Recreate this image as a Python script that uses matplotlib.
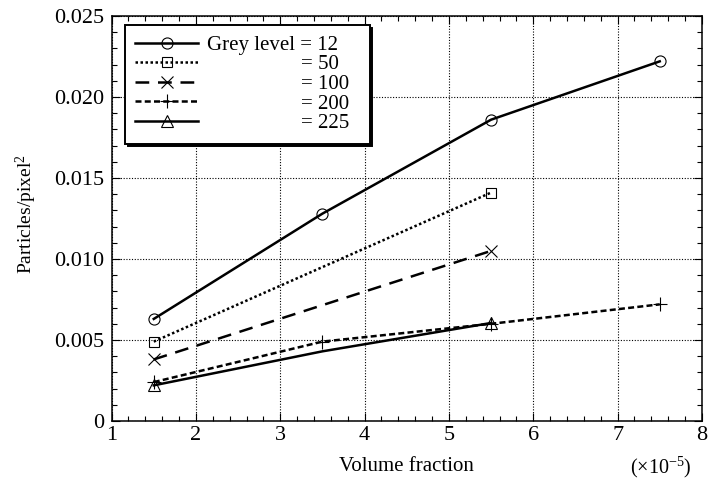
import matplotlib
matplotlib.use('Agg')
import matplotlib.pyplot as plt
from matplotlib.ticker import MultipleLocator, FixedFormatter, FixedLocator

plt.rcParams['font.family'] = ['Liberation Serif', 'DejaVu Serif']
plt.rcParams['mathtext.fontset'] = 'custom'
plt.rcParams['mathtext.rm'] = 'Liberation Serif'
plt.rcParams['mathtext.it'] = 'Liberation Serif:italic'

# data (volume fraction in units of 1e-5, particles per pixel^2)
x12 = [1.5, 3.5, 5.5, 7.5]
y12 = [0.0063, 0.0128, 0.0186, 0.0222]
x50 = [1.5, 5.5]
y50 = [0.0049, 0.0141]
x100 = [1.5, 5.5]
y100 = [0.0038, 0.0105]
x200 = [1.5, 3.5, 5.5, 7.5]
y200 = [0.0024, 0.0049, 0.0060, 0.0072]
x225 = [1.5, 3.5, 5.5]
y225 = [0.0022, 0.0043, 0.00605]
labels = ['Grey level = 12', '= 50', '= 100', '= 200', '= 225']
yticks = [0, 0.005, 0.010, 0.015, 0.020, 0.025]
ytick_labels = ['0', '0.005', '0.010', '0.015', '0.020', '0.025']

fs_tick = 16
fs = 15
fig = plt.figure(figsize=(7.09, 4.79), dpi=100)
ax = fig.add_axes([0.1574, 0.1211, 0.8326, 0.8455])

lw = 1.8
mk = dict(mfc='none', mec='black', mew=0.8, color='black', lw=lw)
l1, = ax.plot(x12, y12, marker='o', ms=8, ls='-', **mk)
l2, = ax.plot(x50, y50, marker='s', ms=7.5, ls=(0, (1.0, 1.0)), **mk)
l3, = ax.plot(x100, y100, marker='x', ms=8.5, ls=(0, (5.5, 3.5)), **mk)
l4, = ax.plot(x200, y200, marker='+', ms=10, ls=(0, (2.4, 1.3)), **mk)
l5, = ax.plot(x225, y225, marker='^', ms=8.5, ls='-', markevery=2, **mk)

ax.set_xlim(1, 8)
ax.set_ylim(0, 0.025)
ax.xaxis.set_major_locator(MultipleLocator(1))
ax.xaxis.set_minor_locator(MultipleLocator(0.2))
ax.yaxis.set_major_locator(FixedLocator(yticks))
ax.yaxis.set_major_formatter(FixedFormatter(ytick_labels))
ax.yaxis.set_minor_locator(MultipleLocator(0.001))
ax.tick_params(which='both', direction='in', top=True, right=True,
               labelsize=fs_tick, width=0.8, color='black')
ax.tick_params(which='major', length=6)
ax.tick_params(which='minor', length=3.5)
ax.tick_params(axis='x', pad=3.5)
ax.tick_params(axis='y', pad=5)
for s in ax.spines.values():
    s.set_linewidth(1.1)

ax.grid(True, which='major', color='black', ls=(0, (1, 1.5)), lw=0.8)
ax.set_axisbelow(True)

ax.set_xlabel('Volume fraction', fontsize=fs, labelpad=9)
ax.set_ylabel('Particles/pixel$^{2}$', fontsize=14)
ax.yaxis.set_label_coords(-0.123, 0.51)
fig.text(0.976, 0.012, r'($\times$10$^{-5}$)', fontsize=14.5, ha='right', va='baseline')

# trailing spaces widen the box on the right like the original
leg_labels = [labels[0] + '    '] + labels[1:]
leg = ax.legend([l1, l2, l3, l4, l5], leg_labels, loc='upper left',
                bbox_to_anchor=(0.0227, 0.978), borderaxespad=0,
                fontsize=fs, handlelength=3.0, handletextpad=0.45,
                labelspacing=0.0, borderpad=0.5, fancybox=False,
                framealpha=1, edgecolor='black',
                shadow={'color': 'black', 'alpha': 1})
leg.get_frame().set_linewidth(1.4)

# line the "=" signs up under the one in the first label
fig.canvas.draw()
r = fig.canvas.get_renderer()
p0 = fig.text(0, 0, labels[0], fontsize=fs)
p1 = fig.text(0, 0, '= 12', fontsize=fs)
dx = p0.get_window_extent(r).width - p1.get_window_extent(r).width
p0.remove()
p1.remove()
for t in leg.get_texts()[1:]:
    t.set_x(dx)

fig.savefig('out.png', dpi=100)
